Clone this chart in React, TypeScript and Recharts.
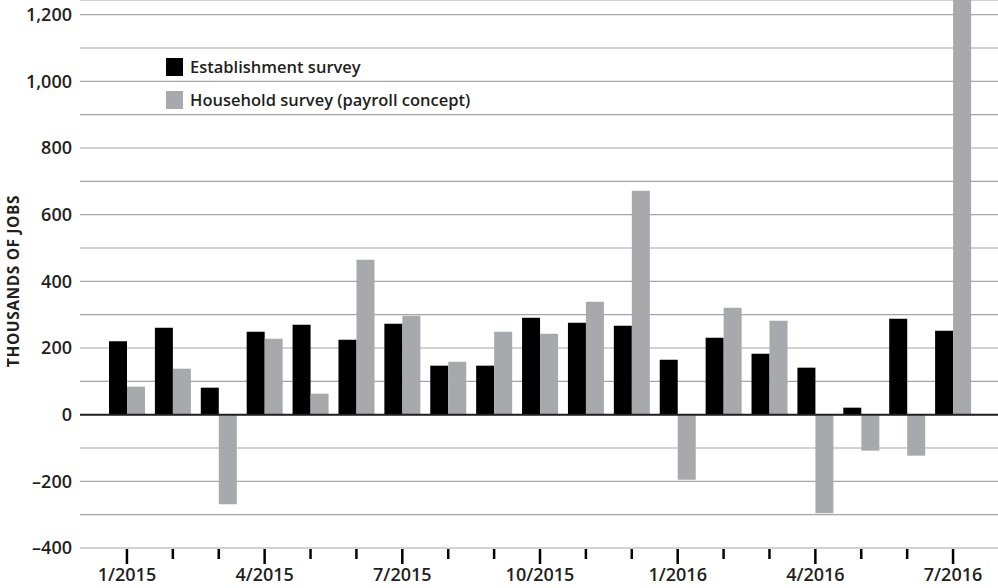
import React from 'react';
import { BarChart, Bar, XAxis, YAxis, CartesianGrid, ReferenceLine, Legend } from 'recharts';

const months = [
  '1/2015', '2/2015', '3/2015', '4/2015', '5/2015', '6/2015', '7/2015', '8/2015', '9/2015', '10/2015',
  '11/2015', '12/2015', '1/2016', '2/2016', '3/2016', '4/2016', '5/2016', '6/2016', '7/2016',
];
const establishment = [220, 261, 81, 249, 270, 225, 273, 147, 147, 291, 276, 267, 165, 231, 183, 141, 21, 288, 252];
const household = [84, 138, -269, 228, 63, 465, 297, 159, 249, 243, 339, 672, -195, 321, 282, -296, -108, -123, 1400];
const yTicks = [-400, -300, -200, -100, 0, 100, 200, 300, 400, 500, 600, 700, 800, 900, 1000, 1100, 1200];
const seriesNames = ['Establishment survey', 'Household survey (payroll concept)'];
const seriesKeys = ['establishment', 'household'];
const seriesColors = ['#000000', '#a7a9ac'];
const yTitle = 'THOUSANDS OF JOBS';

const data = months.map((m, i) => ({ month: m, establishment: establishment[i], household: household[i] }));

const FONT = '"Open Sans", "Noto Sans", sans-serif';
const TEXT = '#231f20';

const fmtY = (v: number) => {
  if (v % 200 !== 0) return '';
  const abs = Math.abs(v).toLocaleString('en-US');
  return v < 0 ? '\u2013' + abs : abs;
};

function XTick(props: any) {
  const { x, y, payload } = props;
  const idx = props.index ?? payload?.index ?? 0;
  const major = idx % 3 === 0;
  return (
    <g>
      <line x1={x} x2={x} y1={y + 1} y2={y + (major ? 16 : 11)} stroke="#000" strokeWidth={2.5} />
      {major && (
        <text x={x} y={y + 33} textAnchor="middle" fontFamily={FONT} fontWeight={600} fontSize={18} fill={TEXT}>
          {payload.value}
        </text>
      )}
    </g>
  );
}

const renderYTitle = () => (
  <text
    x={13}
    y={281}
    transform="rotate(-90 13 281)"
    textAnchor="middle"
    dominantBaseline="central"
    fontFamily={FONT}
    fontWeight={700}
    fontSize={15.5}
    letterSpacing={0.6}
    fill={TEXT}
  >
    {yTitle}
  </text>
);

const renderLegend = () => (
  <div style={{ fontFamily: FONT, fontWeight: 600, fontSize: 16.5, color: TEXT }}>
    {seriesNames.map((n, i) => (
      <div key={n} style={{ display: 'flex', alignItems: 'center', height: 33, whiteSpace: 'nowrap' }}>
        <span style={{ display: 'inline-block', width: 17, height: 18, background: seriesColors[i], marginRight: 7 }} />
        <span>{n}</span>
      </div>
    ))}
  </div>
);

export default function App() {
  return (
    <div style={{ position: 'absolute', left: 0, top: 0, width: 998, height: 588, background: '#fff' }}>
      <BarChart
        width={998}
        height={588}
        data={data}
        margin={{ top: 0, right: 0, bottom: 0, left: 0 }}
        barSize={18}
        barGap={0}
      >
        <CartesianGrid vertical={false} stroke="#a5a5a5" strokeWidth={1.2} />
        <XAxis
          dataKey="month"
          height={40}
          interval={0}
          padding={{ left: 24, right: 22 }}
          axisLine={false}
          tickLine={false}
          tickSize={0}
          tickMargin={0}
          tick={<XTick />}
        />
        <YAxis
          width={80}
          domain={[-400, 1244]}
          allowDataOverflow
          ticks={yTicks}
          interval={0}
          tickFormatter={fmtY}
          axisLine={false}
          tickLine={false}
          tickSize={0}
          tickMargin={8}
          tick={{ fontFamily: FONT, fontWeight: 600, fontSize: 18, fill: TEXT }}
          label={renderYTitle}
        />
        <Legend
          layout="vertical"
          align="center"
          verticalAlign="middle"
          content={renderLegend}
          wrapperStyle={{ top: 50, left: 166, width: 400 }}
        />
        {seriesKeys.map((k, i) => (
          <Bar key={k} dataKey={k} name={seriesNames[i]} fill={seriesColors[i]} isAnimationActive={false} />
        ))}
        <ReferenceLine y={0} stroke="#231f20" strokeWidth={2} />
      </BarChart>
    </div>
  );
}
